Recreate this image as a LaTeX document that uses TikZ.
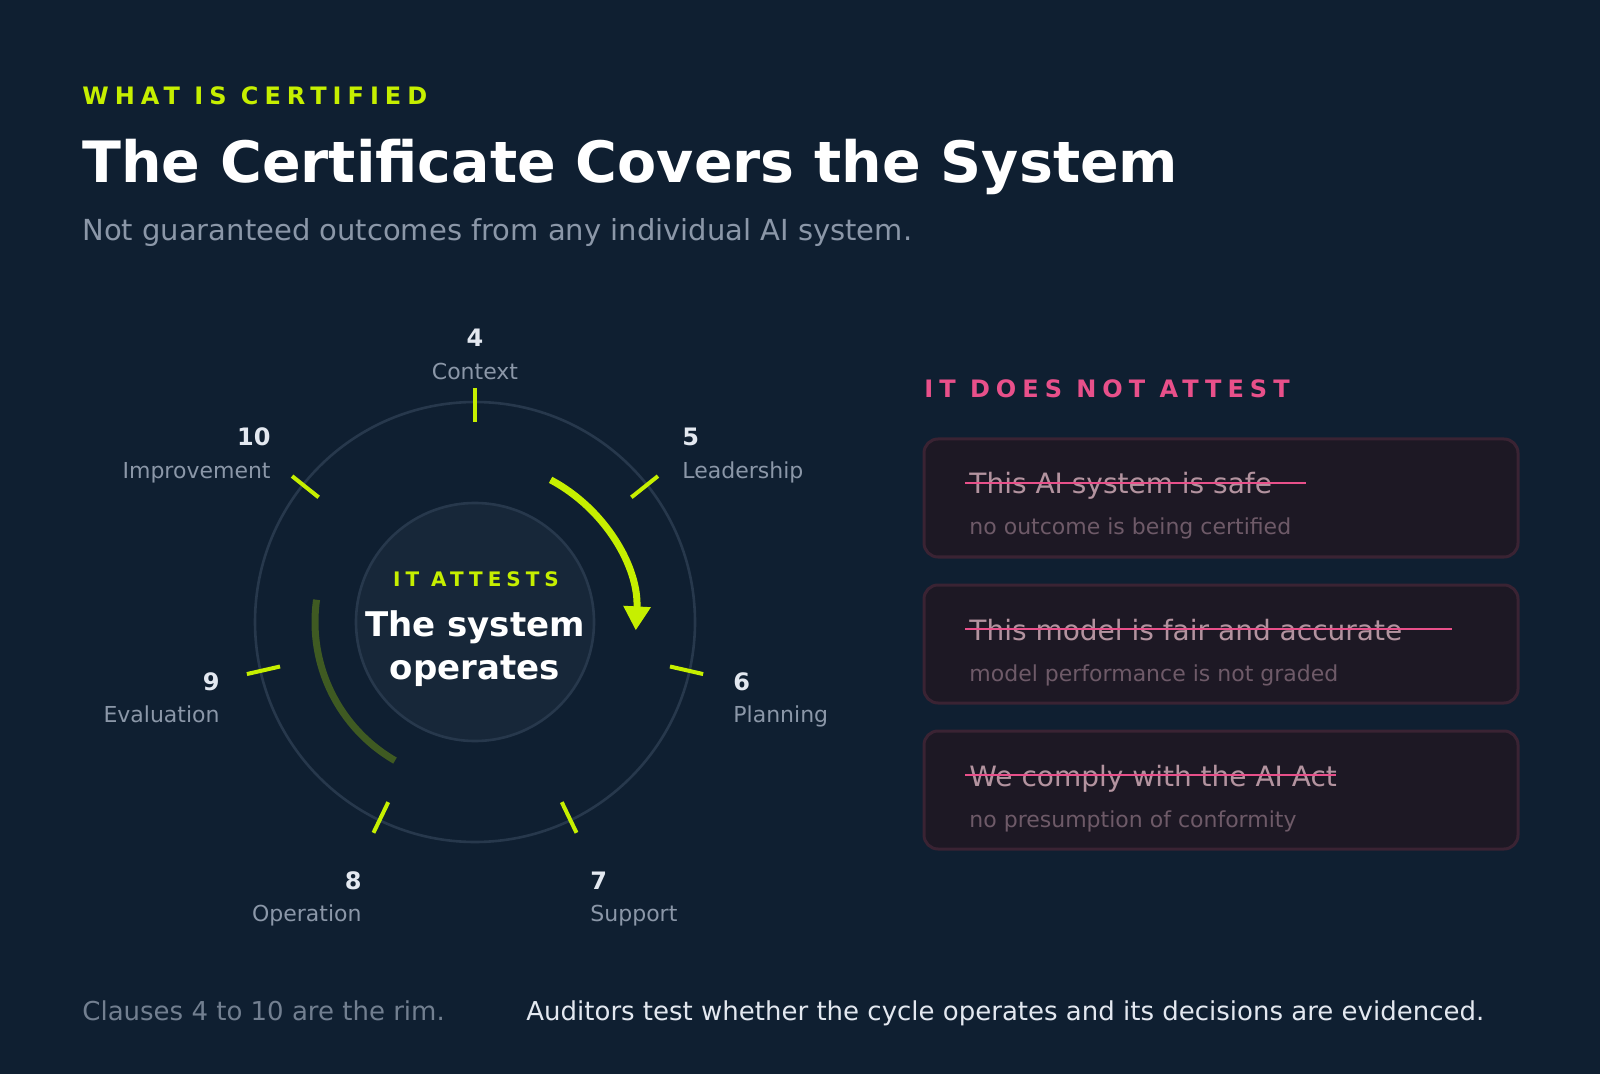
\documentclass[tikz,border=0pt]{standalone}
\usepackage{fontspec}
\setmainfont{DejaVu Sans}
\usetikzlibrary{arrows.meta,calc}
\definecolor{bg}{HTML}{0F1F31}
\definecolor{lime}{HTML}{C6EF00}
\definecolor{dlime}{HTML}{3F5A22}
\definecolor{gry}{HTML}{8B97A8}
\definecolor{rim}{HTML}{27384C}
\definecolor{hub}{HTML}{172739}
\definecolor{pink}{HTML}{E8508A}
\definecolor{cardf}{HTML}{1D1824}
\definecolor{cards}{HTML}{3A2333}
\definecolor{strk}{HTML}{B3939F}
\definecolor{subc}{HTML}{6E5A68}
\definecolor{numc}{HTML}{E3E8F0}
\begin{document}
\begin{tikzpicture}[x=0.5pt,y=-0.5pt,
  num/.style={font=\fontsize{12}{14}\selectfont\bfseries, text=numc, inner sep=0},
  lab/.style={font=\fontsize{11}{13}\selectfont, text=gry, inner sep=0},
  tick/.style={lime, line width=2pt},
  card/.style={draw=cards, fill=cardf, line width=1.5pt, rounded corners=7pt},
  ctitle/.style={font=\fontsize{14}{16}\selectfont, text=strk, anchor=base west, inner sep=0},
  csub/.style={font=\fontsize{11}{13}\selectfont, text=subc, anchor=base west, inner sep=0},
  strike/.style={pink, line width=1.3pt}]
\useasboundingbox (0,0) rectangle (1600,1074);
\fill[bg] (0,0) rectangle (1600,1074);
% header
\node[anchor=base west, inner sep=0, text=lime, font=\fontsize{12}{14}\selectfont\bfseries\addfontfeatures{LetterSpace=25}] (kick) at (82,105) {WHAT IS CERTIFIED};
\node[anchor=base west, inner sep=0, text=white, font=\fontsize{28.5}{32}\selectfont\bfseries] (title) at (82,183) {The Certificate Covers the System};
\node[anchor=base west, inner sep=0, text=gry, font=\fontsize{14.5}{17}\selectfont] (sub) at (82,241) {Not guaranteed outcomes from any individual AI system.};
% cycle
\coordinate (C) at (475,622);
\draw[rim, line width=1.3pt] (C) circle[radius=220];
\node[circle, draw=rim, fill=hub, line width=1.3pt, minimum size=119pt, inner sep=0] (hub) at (C) {};
\foreach \k in {0,...,6}{
  \pgfmathsetmacro\a{-(90-\k*360/7)}
  \draw[tick] ($(C)+(\a:200)$) -- ($(C)+(\a:234)$);
}
\draw[lime, line width=3.5pt, -{Triangle[length=12pt,width=13pt]}] (C) ++(-62:161) arc[start angle=-62, end angle=3, radius=161];
\draw[dlime, line width=3.5pt] (C) ++(-172:160) arc[start angle=-172, end angle=-240, radius=160];
\node[anchor=base, inner sep=0, text=lime, font=\fontsize{10}{12}\selectfont\bfseries\addfontfeatures{LetterSpace=25}] (att) at (476,587) {IT ATTESTS};
\node[anchor=base, inner sep=0, text=white, font=\fontsize{17}{20}\selectfont\bfseries] (sys1) at (475,636) {The system};
\node[anchor=base, inner sep=0, text=white, font=\fontsize{17}{20}\selectfont\bfseries] (sys2) at (475,679) {operates};
% labels
\node[num, anchor=base] (n4) at (475,347) {4};
\node[lab, anchor=base] (l4) at (475,380) {Context};
\node[num, anchor=base west] (n5) at (682,446) {5};
\node[lab, anchor=base west] (l5) at (682,479) {Leadership};
\node[num, anchor=base east] (n10) at (271,446) {10};
\node[lab, anchor=base east] (l10) at (271,479) {Improvement};
\node[num, anchor=base west] (n6) at (733,690) {6};
\node[lab, anchor=base west] (l6) at (733,722) {Planning};
\node[num, anchor=base east] (n9) at (220,690) {9};
\node[lab, anchor=base east] (l9) at (220,722) {Evaluation};
\node[num, anchor=base west] (n7) at (590,889) {7};
\node[lab, anchor=base west] (l7) at (590,921) {Support};
\node[num, anchor=base east] (n8) at (362,889) {8};
\node[lab, anchor=base east] (l8) at (362,921) {Operation};
% right panel
\node[anchor=base west, inner sep=0, text=pink, font=\fontsize{12}{14}\selectfont\bfseries\addfontfeatures{LetterSpace=25}] (nat) at (924,398) {IT DOES NOT ATTEST};
\foreach \i/\t/\s/\e in {0/This AI system is safe/no outcome is being certified/1306,
                         1/This model is fair and accurate/model performance is not graded/1452,
                         2/We comply with the AI Act/no presumption of conformity/1336}{
  \pgfmathsetmacro\yy{439+\i*146}
  \draw[card] (924,\yy) rectangle (1518,\yy+118);
  \node[ctitle] (ct\i) at (969,\yy+55) {\t};
  \node[csub] (cs\i) at (969,\yy+96) {\s};
  \draw[strike] (965,\yy+44) -- (\e,\yy+44);
}
% footer
\node[anchor=base west, inner sep=0, text=gry!80!bg, font=\fontsize{13}{15}\selectfont] (f1) at (82,1020) {Clauses 4 to 10 are the rim.};
\node[anchor=base west, inner sep=0, text=numc, font=\fontsize{13}{15}\selectfont] (f2) at (526,1020) {Auditors test whether the cycle operates and its decisions are evidenced.};
\end{tikzpicture}
\end{document}
